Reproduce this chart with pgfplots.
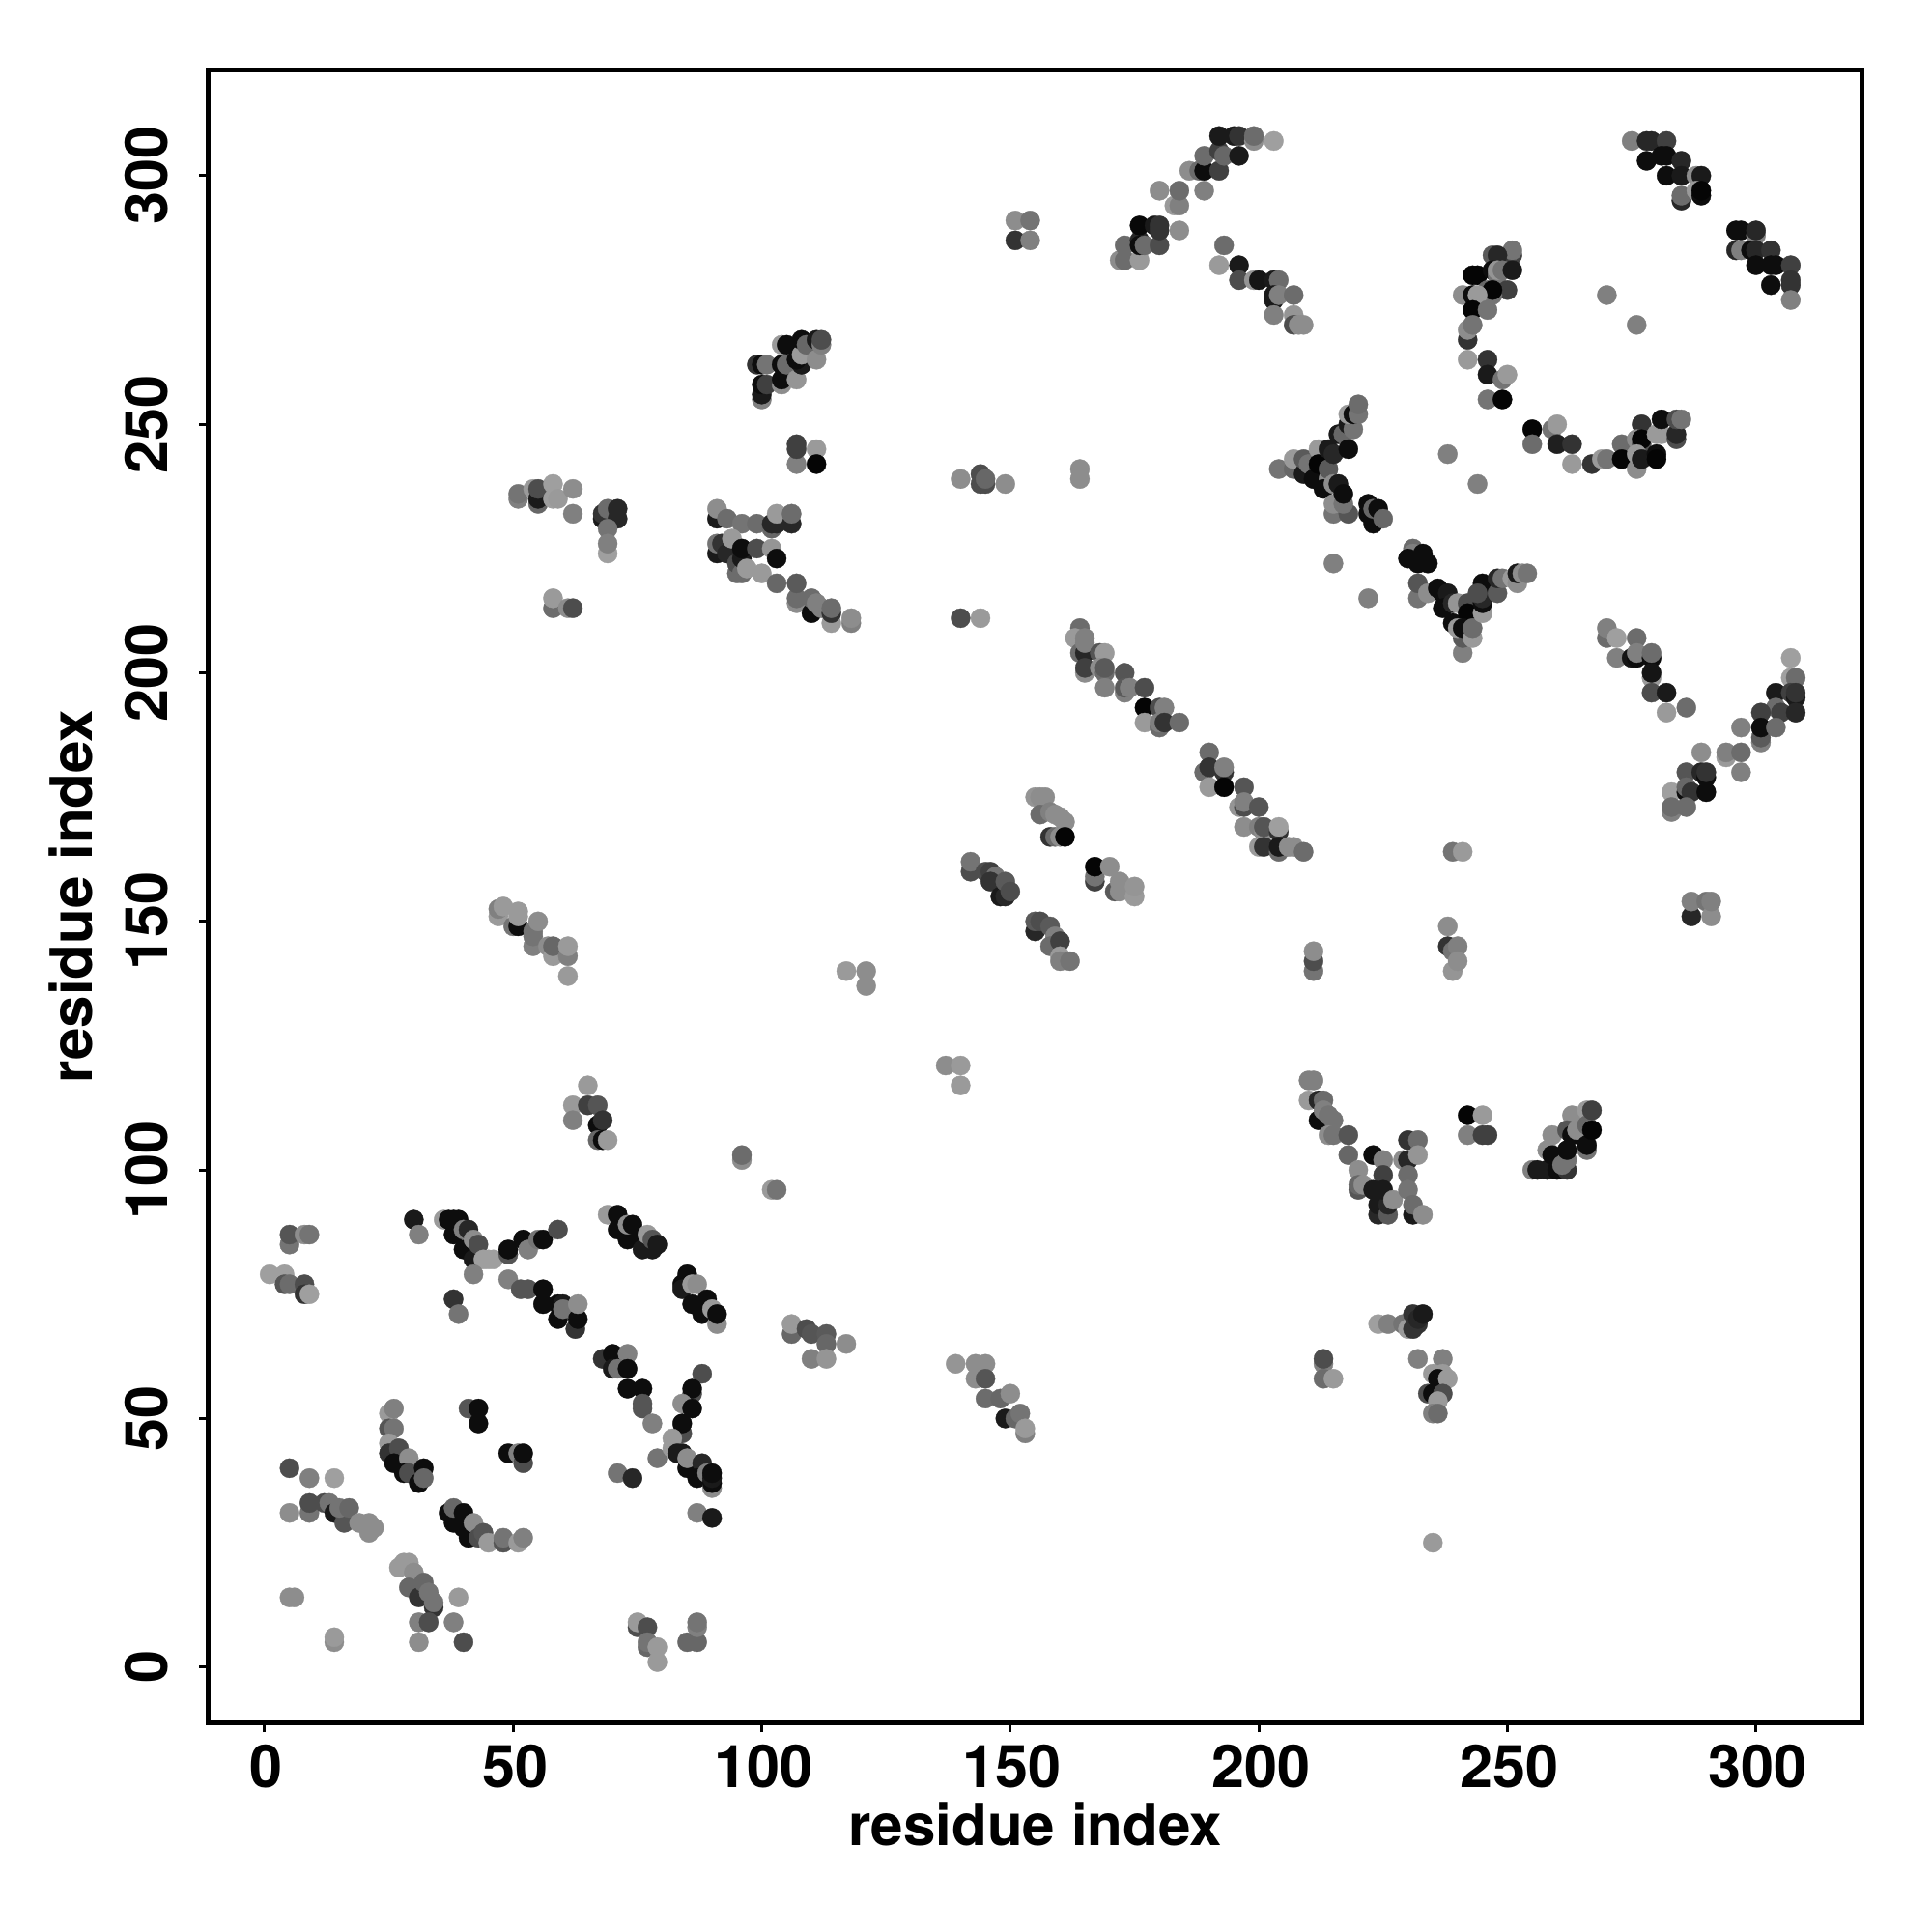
\documentclass[border=0pt]{standalone}
\usepackage{pgfplots}
\pgfplotsset{compat=1.18}
\usepackage{fontspec}
\setmainfont{TeX Gyre Heros}
\begin{document}
\begin{tikzpicture}
\path[use as bounding box] (-2.16cm,-2.163cm) rectangle (17.84cm,17.837cm);
\begin{axis}[at={(0,0)},anchor=south west,scale only axis,width=17.11cm,height=17.11cm,
 xmin=-11.27,xmax=321.23,ymin=-11.27,ymax=321.23,
 xtick={0,50,...,300},ytick={0,50,...,300},
 axis line style={line width=0.5mm},
 tick align=outside,xtick pos=bottom,ytick pos=left,major tick length=0.95mm,
 tick style={draw=black,line width=0.3mm},
 /pgf/number format/assume math mode=true,
 ticklabel style={font=\bfseries\fontsize{17.4}{20}\selectfont},
 yticklabel style={rotate=90,anchor=south,yshift=2.05mm},
 xticklabel style={anchor=north,yshift=-0.1mm,xshift=0.2mm},
 xlabel={residue index},ylabel={residue index},
 label style={font=\bfseries\fontsize{17.1}{22}\selectfont},
 xlabel style={at={(axis description cs:0.5,0)},anchor=north,yshift=-7mm},
 ylabel style={at={(axis description cs:0,0.5)},anchor=south,rotate=0,yshift=10.8mm},
 colormap={gr}{gray(0cm)=(0); gray(1cm)=(1)},
 point meta min=0,point meta max=1]
\addplot[scatter,only marks,mark=*,mark size=1mm,line width=0.1pt,point meta=explicit,
 scatter/use mapped color={draw=mapped color,fill=mapped color}] coordinates {
(5,85)[.45](5,87)[.33](8,87)[.55](9,87)[.45](1,79)[.62](4,79)[.62](4,77)[.33](5,77)[.42](8,77)[.3](8,75)[.2](9,75)[.62]
(30,90)[.1](31,87)[.5](36,90)[.6](37,90)[.05](38,90)[.05](39,90)[.05](38,87)[.05](40,84)[.05](40,88)[.5](41,88)[.15](42,82)[.1](43,82)[.1](42,86)[.55](43,85)[.3](44,82)[.62](45,82)[.62](46,82)[.62]
(49,83)[.33](49,84)[.05](52,86)[.05](53,84)[.5](55,86)[.45](56,86)[.05](59,88)[.3](42,79)[.5](49,78)[.5](38,74)[.2](39,71)[.45]
(51.5,76)[.33](53,76)[.33](56,76)[.05](56,73)[.05](59,73)[.05](60,73)[.1](59,70)[.05](60,72)[.45](62.5,68)[.2](63,70)[.05](63,73)[.55]
(69,91)[.6](71,91)[.05](71,88)[.05](73,86)[.05](73,89)[.55](74,89)[.05](76,86)[.05](76,84)[.1](78,84)[.1](77,87)[.6](78,86)[.33](79,85)[.1]
(85,79)[.05](84,77)[.05](84,76)[.1](86,77)[.6](87,77)[.55](86,73)[.05](89,74)[.05](88,71)[.05](91,69)[.55](90,72)[.6](91,71)[.05]
(106,67)[.4](106,69)[.6](109,68)[.3](110,67)[.33](113,67)[.35](113,65)[.4](110,62)[.5](113,62)[.58](117,65)[.55]
(68,62)[.2](70,63)[.05](73,63)[.5](70,60)[.1](71,60)[.45](73,60)[.05](73,56)[.05](76,56)[.05](76,53)[.33](76,52)[.33](78,49)[.5](79,42)[.45](71,39)[.45](74,38)[.15]
(88,59)[.3](86,55)[.3](86,56)[.05](84,53)[.55](86,52)[.05](84,47)[.3](84,49)[.05](82,44)[.6](82,46)[.6](83,43)[.1](84,43)[.1](85,40)[.05](85,42)[.55](88,41)[.15](87,38)[.05](90,36)[.55](89,39)[.5](90,37)[.05](90,38)[.1](90,39)[.05](87,31)[.5](90,30)[.1]
(25,51)[.6](26,52)[.5](25,48)[.33](26,48)[.45](25,45)[.6](25,43)[.2](27,44)[.3](26,41)[.05](29,42)[.55](28,39)[.05](29,39)[.3](32,40)[.05](31,37)[.05](32,38)[.4]
(41,52)[.33](43,49)[.05](43,52)[.05](49,43)[.05](51,43)[.5](52,41)[.3](52,43)[.05]
(5,40)[.3](9,38)[.5](14,38)[.62](5,31)[.55](9,31)[.45](9,33)[.3](12,33)[.3](13,33)[.45](14,31)[.1](16,29)[.33](15,32)[.45](17,32)[.4](19,29)[.55](21,27)[.55](21,29)[.55](22,28)[.55]
(38,29)[.05](37,31)[.05](38,32)[.4](40,28)[.05](40,31)[.05](41,26)[.05](42,29)[.55](43,26)[.3](44,27)[.33](45,25)[.6](48,25)[.33](48,26)[.45](51,25)[.6](52,26)[.5]
(27,20)[.6](28,21)[.6](29,21)[.6](30,19)[.55](29,16)[.4](31,14)[.2](32,17)[.4](33,15)[.45](34,12)[.2](34,13)[.45](39,14)[.6](31,9)[.5](33,9)[.3](38,9)[.5](31,5)[.55](40,5)[.3]
(5,14)[.55](6,14)[.55](14,5)[.55](14,6)[.6]
(75,8)[.3](75,9)[.6](77,8)[.3](77,4)[.4](77,5)[.45](79,4)[.6](79,1)[.6](85,5)[.4](87,5)[.4](87,8)[.5](87,9)[.45]
(47,151)[.6](47,152.5)[.5](48,153)[.6](50,149)[.45](51,149)[.05](51,151)[.6](51,152)[.6](54,145)[.5](54,147)[.45](54,148)[.45](55,150)[.55](57,145)[.55](58,143)[.6](58,145)[.4](61,143)[.5](61,145)[.6](61,139)[.6]
(65,117)[.6](62,113)[.6](62,110)[.5](65,113)[.25](67,113)[.33](67,109)[.05](68,110)[.2](67,106)[.4](68,106)[.05](69,106)[.6]
(96,102)[.55](96,103)[.42](102,96)[.6](103,96)[.45](117,140)[.6](121,137)[.55](121,140)[.55](137,121)[.55](140,121)[.6](140,117)[.6]
(210,118)[.5](211,118)[.5](210,114)[.6](212,114)[.15](213,114)[.42](212,110)[.05](213,112)[.5](214,111)[.45](215,110)[.45](214,107)[.55](215,107)[.45](218,107)[.33](218,103)[.4](220,100)[.55]
(220,96)[.33](220,97)[.4](221,97)[.55](223,103)[.05](225,102)[.5](225,99)[.25](223,96)[.1](224,91)[.15](224,93)[.1](226,91)[.35](226,93)[.15](225,96)[.1](227,94)[.55]
(230,106)[.2](232,106)[.42](229,102)[.55](230,102)[.15](232,103)[.58](230,99)[.42](230,96)[.45](231,91)[.1](231,93)[.42](233,91)[.55]
(242,111)[.02](245,111)[.6](242,107)[.5](245,107)[.25](246,107)[.25]
(255,100)[.5](256,100)[.1](258,100)[.1](260,100)[.05](258,104)[.55](259,103)[.05](259,107)[.55](262,100)[.2](261,101)[.45](262,102)[.45](262,104)[.05](263,111)[.55](262,108)[.33](263,107)[.05](264,108)[.55](266,112)[.6](266,109)[.4](266,104)[.45](266,105)[.05](267,108)[.02](267,112)[.25]
(224,69)[.62](226,69)[.5](229,69)[.45](230,68)[.6](231,68)[.2](232,69)[.2](231,71)[.2](232,70)[.15](233,71)[.1]
(232,62)[.5](237,62)[.5](213,61)[.5](213,62)[.3](213,58)[.42](215,58)[.6]
(235,59)[.6](237,59)[.6](236,58)[.05](238,58)[.6](234,55)[.3](235,55)[.05](237,55)[.3](236,53.5)[.6](235,51)[.5](236,51)[.42](235,25)[.6]
(100,255)[.5](100,256)[.1](100,258)[.05](101,258)[.25](99,262)[.2](100,262)[.05](101,262)[.45](104,258)[.55](104,259)[.05](104,262)[.05](105,262)[.42](104,266)[.6](105,266)[.05]
(107,259)[.58](108,262)[.1](107,263)[.05](108,264)[.6](108,267)[.05](109,266)[.4](111,263)[.55](111,267)[.1](112,266)[.5](112,267)[.3]
(107,242)[.5](107,245)[.25](107,246)[.25](111,245)[.6](111,242)[.02]
(51,235)[.5](51,236)[.45](54,237)[.6](55,234)[.4](55,235)[.1](55,237)[.3](58,238)[.62](58,235)[.62](59,235)[.6](62,237)[.55](62,232)[.5]
(68,231)[.1](68,232)[.2](69,233)[.42](71,231)[.15](71,233)[.15](69,229)[.45](69,224)[.62](69,226)[.5]
(58,213)[.42](58,215)[.6](61,213)[.55](62,213)[.3]
(91,231)[.1](91,233)[.55](93,231)[.42](96,230)[.45](99,230)[.42](102,229)[.4](102,230)[.15](103,230)[.15](103,232)[.6](106,230)[.15](106,232)[.42]
(91,224)[.1](91,226)[.45](92,226)[.2](93,224)[.15](94,227)[.6](95,220)[.42](95,222)[.3](96,220)[.42](96,223)[.1](96,225)[.05](97,221)[.6](99,225)[.3](102,225)[.58](103,223)[.05](100,220)[.6]
(103,218)[.4](107,214)[.55](107,215)[.42](107,218)[.35](110,212)[.05](110,215)[.42](111,214)[.5](112,213)[.5](114,210)[.6](114,212)[.2](114,213)[.42](118,210)[.5](118,211)[.55]
(204,241)[.45](207,241)[.4](207,243)[.6](209,240)[.1](209,243)[.35](210,242)[.45](212,245)[.6](211,239)[.05](212,242)[.02](214,239)[.55](213,237)[.05](214,245)[.1](214,241)[.35](215,244)[.15]
(215,232)[.45](218,232)[.33](215,234)[.55](217,234)[.45](215,238)[.55](216,238)[.1](217,236)[.05]
(216,248)[.1](217,248)[.4](218,245)[.05](218,250)[.1](219,249)[.45](218,252)[.6](219,252)[.05](220,252)[.45](220,254)[.42]
(222,232)[.05](222,234)[.05](223,230)[.05](223,233)[.4](224,233)[.05](225,231)[.4]
(215,222)[.5](222,215)[.5](238,244)[.5](244,238)[.5]
(231,225)[.42](231,224)[.5](230,223)[.05](233,224)[.05](232,222)[.05](234,222)[.05]
(232,215)[.45](232,218)[.33](234,216)[.55](236,217)[.05](237,216)[.05](238,216)[.1](237,213)[.05](239,214)[.15](240,214)[.58](239,210)[.05](242,214)[.3](242,212)[.02]
(241,204)[.5](241,207)[.35](240,209)[.6](241,209)[.05](243,207)[.6](243,209)[.42](245,212)[.6](245,214)[.05](245,215)[.15](245,218)[.05](244,216)[.3]
(248,216)[.35](248,219)[.15](249,219)[.45](251,219)[.6](252,218)[.55](252,220)[.1](253,220)[.55](254,220)[.45]
(275,307)[.5](278,307)[.15](279,307)[.15](282,307)[.25](278,303)[.05](281,304)[.05](282,304)[.05](282,300)[.05](285,303)[.15](285,300)[.1](288,300)[.55](289,300)[.1]
(285,295)[.15](285,296)[.42](288,297)[.6](289,296)[.05](289,297)[.02]
(296,289)[.05](297,289)[.05](300,288)[.5](300,289)[.15](296,285)[.15](297,285)[.5](299,285)[.05](300,285)[.15](303,285)[.2](300,282)[.05](303,282)[.05](304,282)[.05](307,282)[.25](303,278)[.05](307,278)[.2](307,279)[.2](307,275)[.5]
(251,284)[.25](251,285)[.45](247,284)[.35](248,284)[.15](243,280)[.02](244,280)[.02](247,281)[.05](248,280)[.45](248,281)[.58](249,281)[.45](251,281)[.1](250,277)[.25](246,277)[.4](247,276)[.45](247,277)[.02]
(241,276)[.55](243,276)[.05](244,276)[.6](243,273)[.02](246,273)[.45](242,267)[.2](242,269)[.55](243,270)[.45](242,263)[.6](246,263)[.2](246,260)[.1](249,259)[.45](250,260)[.6](246,255)[.45](249,255)[.02]
(255,249)[.02](255,246)[.42](259,249)[.45](260,250)[.6](260,246)[.12](263,246)[.2](263,242)[.6](267,242)[.2](269,243)[.6](270,243)[.45](273,246)[.42](273,243)[.02]
(276,241)[.55](277,250)[.2](276,247)[.55](277,246)[.3](277,247)[.02](276,244)[.6](277,243)[.1](280,244)[.05](280,243)[.02](280,248)[.6](281,248)[.6](281,251)[.05](284,247)[.3](284,248)[.15](284,251)[.3](285,251)[.45]
(270,276)[.5](276,270)[.5]
(172,283)[.55](173,283)[.42](176,283)[.6](173,286)[.42](176,287)[.15](176,286)[.05](177,286)[.42](180,286)[.3](176,290)[.03](179,290)[.1](180,289)[.2](180,290)[.2](184,289)[.55]
(180,297)[.55](183,294)[.6](184,294)[.5](184,297)[.42](189,297)[.5](186,301)[.55](188,301)[.42](189,301)[.05](192,301)[.25](189,304)[.42](192,305)[.25](193,304)[.4](196,304)[.1]
(192,308)[.1](195,308)[.1](196,308)[.2](199,307)[.55](199,308)[.42](203,307)[.62]
(193,286)[.42](192,282)[.6](196,282)[.1](196,279)[.3](199,279)[.58](200,279)[.08](203,279)[.1](204,279)[.42](203,275)[.1](203,276)[.1](204,276)[.5](207,276)[.42](203,272)[.5](207,272)[.58](207,270)[.3](208,270)[.55](209,270)[.55]
(151,287)[.2](151,291)[.55](154,287)[.5](154,291)[.45]
(164,239)[.55](164,241)[.55](140,239)[.55](144,238)[.3](145,238)[.3](144,240)[.3](145,239)[.4](149,238)[.55](140,211)[.3](144,211)[.6]
(164,209)[.42](163,207)[.6](165,207)[.5](164,204)[.42](165,204)[.15](165,206)[.5](168,204)[.33](169,204)[.6](165,200)[.55](165,201)[.25](168,201)[.55](169,200)[.42](169,201)[.35](169,197)[.5](173,200)[.33](173,196)[.5](173,197)[.35](174,197)[.5](177,197)[.3]
(177,193)[.02](180,193)[.3](181,193)[.5](177,190)[.6](180,189)[.42](180,190)[.5](181,190)[.2](184,190)[.42]
(190,184)[.42](189,180)[.42](190,181)[.2](193,180)[.2](193,181)[.5](190,177)[.6](193,177)[.02](197,177)[.33](196,173)[.58](197,173)[.3](197,174)[.5](200,173)[.33]
(197,169)[.55](200,169)[.5](201,168)[.55](201,169)[.33](204,168)[.2](204,169)[.62](200,165)[.6](201,165)[.2](204,164)[.42](204,165)[.1](206,165)[.55](207,165)[.55](209,164)[.42]
(155,175)[.58](156,175)[.55](157,175)[.55](156,171.5)[.42](158,172)[.5](159,171.5)[.55](160,171)[.55](161,170)[.55](158,167)[.2](159,167)[.42](160,167)[.55](161,167)[.02]
(142,160)[.3](142,162)[.45](145,160)[.3](146,160)[.25](147,159)[.45](146,158)[.2](148,155)[.1](149,155)[.15](149,158)[.35](150,156)[.3]
(155,148)[.15](155,150)[.35](156,150)[.3](158,149)[.35](159,147)[.5](158,145)[.42](160,146)[.25](160,143)[.6](160,142)[.5](162,142)[.45]
(167,158)[.25](167,159)[.45](167,161)[.02](170,161)[.55](171,156)[.35](172,156)[.55](172,158)[.55](175,155)[.6](175,157)[.58]
(139,61)[.58](143,58)[.55](143,61)[.55](145,61)[.55](145,58)[.33](145,54)[.42](148,54)[.4](149,50)[.1](150,55)[.55](151,50)[.4](152,51)[.45](153,47)[.5](153,48)[.6]
(211,140)[.45](211,142)[.3](211,144)[.55](238,149)[.55](238,145)[.2](239,144)[.45](240,145)[.5](239,140)[.58](240,142)[.55](239,164)[.45](241,164)[.6]
(270,207)[.42](270,209)[.5](272,207)[.62](272,203)[.5](276,207)[.42](275,203)[.08](276,203)[.05](276,204)[.5](279,203)[.05](279,204)[.42](279,199)[.6](279,200)[.08](279,196)[.3](282,196)[.1](282,192)[.6](286,193)[.42]
(307,203)[.62](307,199)[.62](308,199)[.42](304,196)[.1](307,196)[.25](308,195)[.1](308,196)[.2](304,193)[.42](305,192)[.25](308,192)[.15](301,192)[.25](301,186)[.5](301,187)[.35](301,189)[.05](304,189)[.42](297,189)[.5]
(289,184)[.55](294,183)[.6](294,184)[.5](297,184)[.42](297,180)[.5]
(286,180)[.33](289,180)[.15](290,179)[.05](290,180)[.2](283,176)[.62](286,176)[.05](286,177)[.4](287,176)[.2](290,176)[.05](283,172)[.5](283,173)[.42](286,173)[.42]
(287,151)[.15](287,154)[.5](290,154)[.45](291,151)[.55](291,154)[.5]
};
\end{axis}
\end{tikzpicture}
\end{document}
